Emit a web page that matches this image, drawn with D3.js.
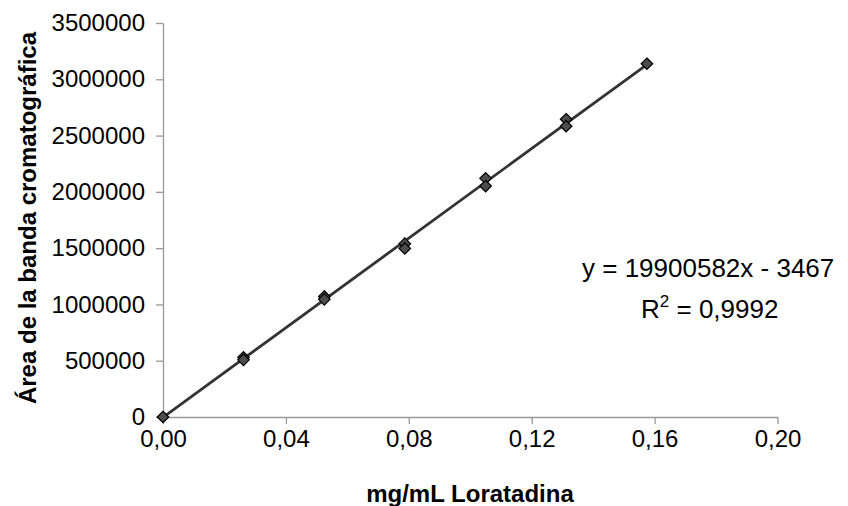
<!DOCTYPE html>
<html>
<head>
<meta charset="UTF-8">
<title>Curva de calibración</title>
<script src="https://d3js.org/d3.v7.min.js"></script>
<style>
  body { margin: 0; background: #fff; }
  svg { display: block; font-family: "Liberation Sans", Arial, sans-serif; }
</style>
</head>
<body>
<svg width="848" height="506"></svg>
<script>
const concentracion = [0, 0.0262, 0.0262, 0.0525, 0.0525, 0.0787, 0.0787, 0.1050, 0.1050, 0.1312, 0.1312, 0.1575];
const area = [0, 530000, 508000, 1070000, 1045000, 1540000, 1497000, 2120000, 2052000, 2645000, 2583000, 3138000];
const pendiente = 19900582;
const intercepto = -3467;
const xTicks = [0, 0.04, 0.08, 0.12, 0.16, 0.20];
const yTicks = [0, 500000, 1000000, 1500000, 2000000, 2500000, 3000000, 3500000];

const svg = d3.select("svg");
const x = d3.scaleLinear().domain([0, 0.20]).range([163, 777.5]);
const y = d3.scaleLinear().domain([0, 3500000]).range([417, 23]);
const fmt = d3.formatLocale({decimal: ",", thousands: ".", grouping: [3], currency: ["", ""]}).format(".2f");

const xAxis = svg.append("g")
  .attr("transform", "translate(0,417)")
  .call(d3.axisBottom(x).tickValues(xTicks).tickFormat(fmt).tickSizeInner(7).tickSizeOuter(0).tickPadding(6));
const yAxis = svg.append("g")
  .attr("transform", "translate(163,0)")
  .call(d3.axisLeft(y).tickValues(yTicks).tickFormat(d3.format("d")).tickSizeInner(7).tickSizeOuter(0).tickPadding(11));

[xAxis, yAxis].forEach(g => {
  g.select(".domain").attr("stroke", "#999").attr("stroke-width", 1.3);
  g.selectAll(".tick line").attr("stroke", "#999").attr("stroke-width", 1.3);
  g.selectAll(".tick text").attr("fill", "#000").style("font-size", "24px").style("font-family", "'Liberation Sans', Arial, sans-serif");
});

// línea de tendencia
const x0 = d3.min(concentracion), x1 = d3.max(concentracion);
svg.append("line")
  .attr("x1", x(x0)).attr("y1", y(pendiente * x0 + intercepto))
  .attr("x2", x(x1)).attr("y2", y(pendiente * x1 + intercepto))
  .attr("stroke", "#333").attr("stroke-width", 2.8);

// puntos
const diamante = d3.symbol().type(d3.symbolDiamond2).size(85);
svg.selectAll("path.pt")
  .data(concentracion)
  .enter()
  .append("path")
  .attr("class", "pt")
  .attr("d", diamante)
  .attr("transform", (d, i) => "translate(" + x(d) + "," + y(area[i]) + ")")
  .attr("fill", "#4d4d4d")
  .attr("stroke", "#000")
  .attr("stroke-width", 1.2);

// títulos de ejes
svg.append("text")
  .attr("transform", "translate(36,218) rotate(-90)")
  .attr("text-anchor", "middle")
  .style("font-size", "24px").style("font-weight", "bold")
  .text("Área de la banda cromatográfica");
svg.append("text")
  .attr("x", 470).attr("y", 502)
  .attr("text-anchor", "middle")
  .style("font-size", "24px").style("font-weight", "bold")
  .text("mg/mL Loratadina");

// ecuación
svg.append("text")
  .attr("x", 582).attr("y", 277)
  .style("font-size", "26px")
  .text("y = 19900582x - 3467");
const r2 = svg.append("text")
  .attr("x", 641).attr("y", 318)
  .style("font-size", "26px");
r2.append("tspan").text("R");
r2.append("tspan").attr("dy", -11).style("font-size", "17px").text("2");
r2.append("tspan").attr("dy", 11).text(" = 0,9992");
</script>
</body>
</html>
